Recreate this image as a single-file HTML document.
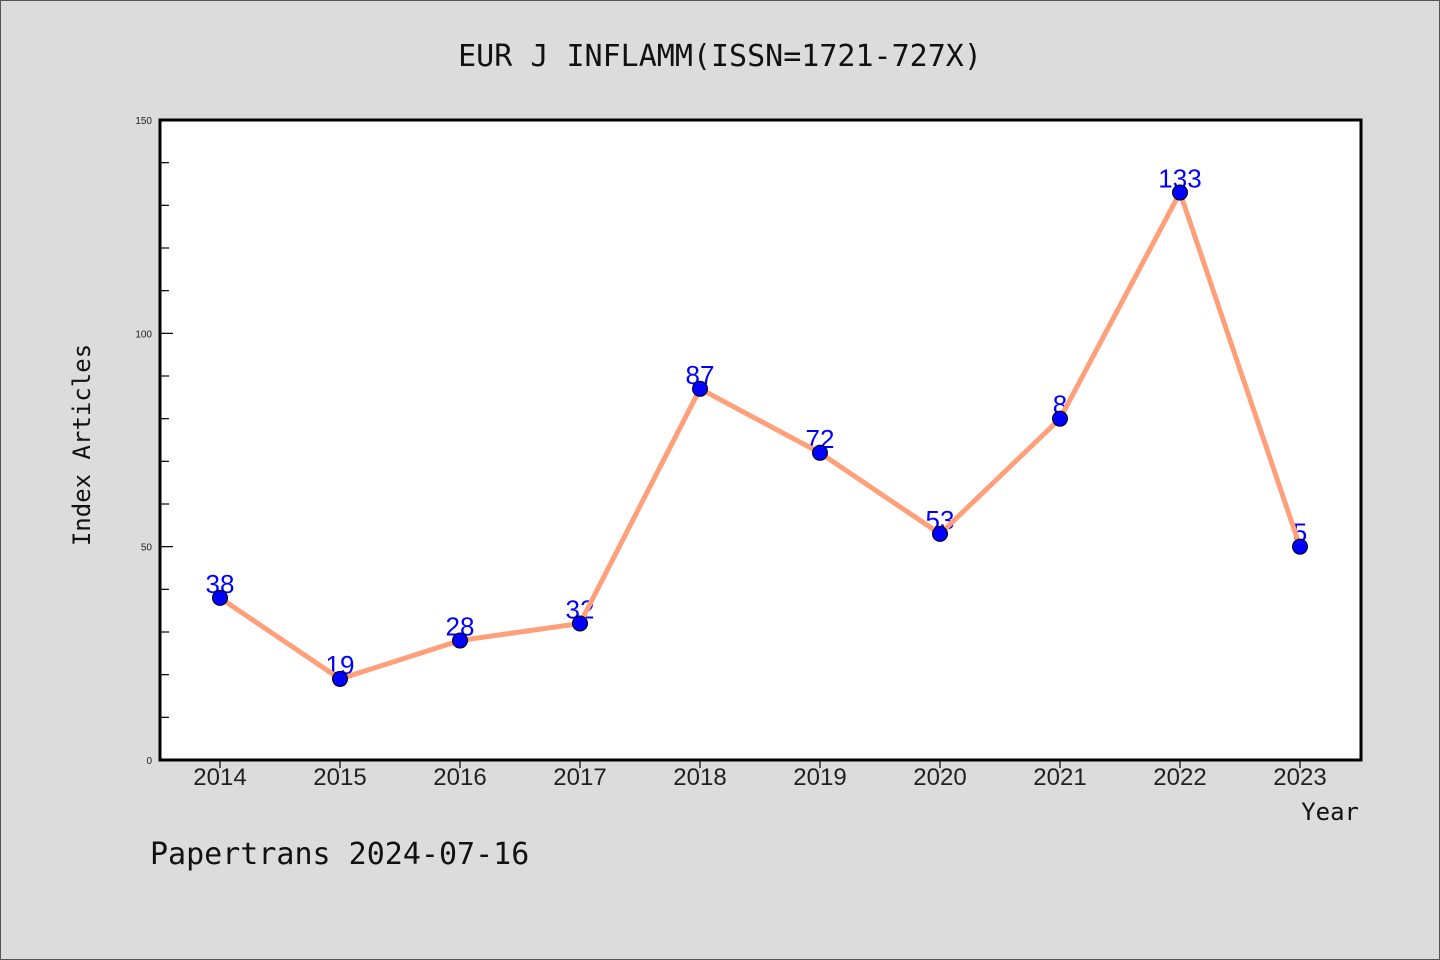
<!DOCTYPE html>
<html><head><meta charset="utf-8"><style>
body{margin:0;background:#dcdcdc;}
svg{display:block;font-family:"Liberation Sans","WenQuanYi Zen Hei",sans-serif;}
.mono{font-family:"WenQuanYi Zen Hei","DejaVu Sans Mono","Liberation Mono",monospace;}
</style></head><body>
<svg id="chart" width="1440" height="960" viewBox="0 0 1440 960">
<rect x="0.5" y="0.5" width="1439" height="959" fill="#dcdcdc" stroke="#555"/>
<text class="mono" x="720" y="66" font-size="30" text-anchor="middle" fill="#111">EUR J INFLAMM(ISSN=1721-727X)</text>
<rect x="160" y="120" width="1201" height="640" fill="#fff"/>
<g id="ticks"></g>
<g id="series"></g>
<rect x="160" y="120" width="1201" height="640" fill="none" stroke="#000" stroke-width="3"/>
<text class="mono" x="0" y="0" font-size="24" fill="#111" text-anchor="middle" transform="translate(90,445) rotate(-90)">Index Articles</text>
<text class="mono" x="1359" y="820" font-size="24" fill="#111" text-anchor="end">Year</text>
<text class="mono" x="150" y="864" font-size="30" fill="#111">Papertrans 2024-07-16</text>
</svg>
<script>
const years=["2014","2015","2016","2017","2018","2019","2020","2021","2022","2023"];
const values=[38,19,28,32,87,72,53,80,133,50];
const pointLabels=["38","19","28","32","87","72","53","8","133","5"];
const yTickLabels=[0,50,100,150];
const NS="http://www.w3.org/2000/svg";
const X0=220,XSTEP=120,YB=760,YT=120,YMAX=150;
function xs(i){return X0+i*XSTEP;}
function ys(v){return YB-(v/YMAX)*(YB-YT);}
function mk(t,a,parent){const e=document.createElementNS(NS,t);for(const k in a)e.setAttribute(k,a[k]);parent.appendChild(e);return e;}
const tg=document.getElementById('ticks'),sg=document.getElementById('series');
for(let v=0;v<=YMAX;v+=10){
  const major=v%50===0;
  const l=mk('line',{x1:major?159:161,x2:major?173:169,y1:ys(v),y2:ys(v),stroke:'#000','stroke-width':1.2},tg);
  
  
}
yTickLabels.forEach(v=>{
  const t=mk('text',{x:152,y:ys(v)+4,'font-size':10,'text-anchor':'end',fill:'#222'},tg);
  t.textContent=v;
  
  
});
years.forEach((y,i)=>{
  const l=mk('line',{x1:xs(i),x2:xs(i),y1:761,y2:768,stroke:'#000','stroke-width':1.2},tg);
  
  
  const t=mk('text',{x:xs(i),y:785,'font-size':24,'text-anchor':'middle',fill:'#222'},tg);
  t.textContent=y;
  
  
});
values.forEach((v,i)=>{
  const t=mk('text',{x:xs(i),y:ys(v)-5,'font-size':26,'text-anchor':'middle',fill:'#0000ff'},sg);
  t.textContent=pointLabels[i];
  
  
});
const line=mk('polyline',{points:values.map((v,i)=>xs(i)+','+ys(v)).join(' '),fill:'none',stroke:'#ffa07a','stroke-width':5,'stroke-linejoin':'round'},sg);


values.forEach((v,i)=>{
  const c=mk('circle',{cx:xs(i),cy:ys(v),r:7.5,fill:'#0000ff',stroke:'#000','stroke-width':1},sg);
  
  
});
</script>
</body></html>
